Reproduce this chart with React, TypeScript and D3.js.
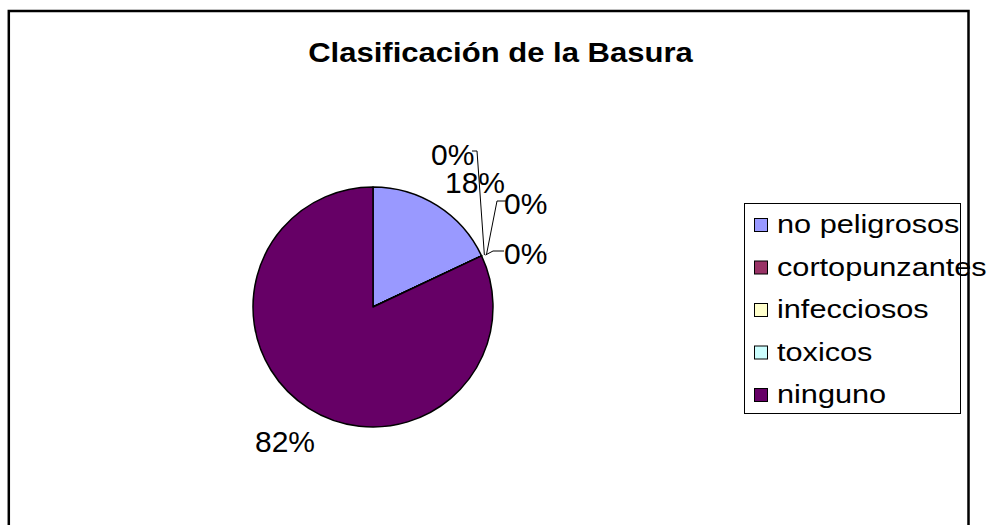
import * as React from 'react';
import * as d3 from 'd3';

const categories = ['no peligrosos', 'cortopunzantes', 'infecciosos', 'toxicos', 'ninguno'];
const values = [18, 0, 0, 0, 82];
const colors = ['#9999FF', '#993366', '#FFFFCC', '#CCFFFF', '#660066'];
const title = 'Clasificación de la Basura';

// label placement (offsets from the outer edge point of each slice), mimics Excel's layout
const labelPos = [
  {x: 445, y: 193, leader: null},
  {x: 431, y: 165, leader: [[472, 151], [477, 151]]},
  {x: 504, y: 214, leader: [[507, 201], [497, 201]]},
  {x: 504, y: 264, leader: [[504, 251], [493, 251]]},
  {x: 255, y: 452, leader: null},
];

export default function App() {
  const width = 997;
  const height = 525;
  const cx = 373;
  const cy = 307;
  const r = 120;

  const total = d3.sum(values);
  const pie = d3.pie<number>().sort(null).value(d => d);
  const arcs = pie(values);
  const arc = d3.arc<d3.PieArcDatum<number>>().innerRadius(0).outerRadius(r);
  const edge = d3.arc<d3.PieArcDatum<number>>().innerRadius(r + 2).outerRadius(r + 2);
  const pct = d3.format('.0%');

  const legendX = 744;
  const legendY = 203;
  const row = d3.scalePoint<string>().domain(categories).range([233, 403]);

  return (
    <svg width={width} height={height} style={{position: 'absolute', left: 0, top: 0, background: '#fff'}}
      fontFamily="'Liberation Sans', Arial, sans-serif">
      <text x={0} y={0} fontSize={27} fontWeight="bold" textAnchor="middle"
        transform={`translate(500.5,61.5) scale(1.15,1)`}>{title}</text>

      <g transform={`translate(${cx},${cy})`}>
        {arcs.map((a, i) => (
          <path key={i} d={arc(a) || ''} fill={colors[i]} stroke="#000" strokeWidth={1.5} strokeLinejoin="round" />
        ))}
      </g>

      {arcs.map((a, i) => {
        const p = labelPos[i];
        const ang = a.endAngle === a.startAngle ? a.startAngle : (a.startAngle + a.endAngle) / 2;
        const ex = cx + (r + 2) * Math.sin(ang) + (i === 1 ? 1 : i === 2 ? 3 : 2);
        const ey = cy - (r + 2) * Math.cos(ang);
        return (
          <g key={i}>
            {p.leader && (
              <polyline fill="none" stroke="#000" strokeWidth={1}
                points={[...p.leader, [ex, ey]].map(q => q.join(',')).join(' ')} />
            )}
            <text x={p.x} y={p.y} fontSize={30}>{pct(values[i] / total)}</text>
          </g>
        );
      })}

      <rect x={legendX + 0.5} y={legendY + 0.5} width={216} height={210} fill="none" stroke="#000" strokeWidth={1} />
      {categories.map((c, i) => (
        <g key={c}>
          <rect x={754.5} y={(row(c) as number) - 14.5} width={13} height={13} fill={colors[i]} stroke="#000" strokeWidth={1} />
          <text x={0} y={0} fontSize={26} transform={`translate(777,${row(c)}) scale(1.18,1)`}>{c}</text>
        </g>
      ))}

      <rect x={8.8} y={11} width={959.7} height={600} fill="none" stroke="#000" strokeWidth={2.5} />
    </svg>
  );
}
